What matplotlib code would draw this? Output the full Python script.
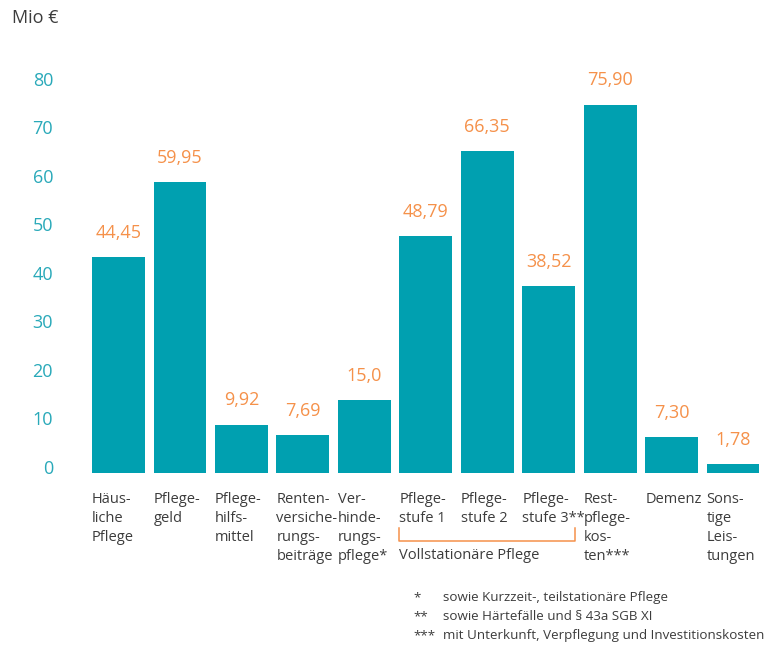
import matplotlib
matplotlib.use("Agg")
import matplotlib.pyplot as plt
from matplotlib.transforms import ScaledTranslation

plt.rcParams['font.family'] = ['Open Sans', 'DejaVu Sans']

categories = ["Häus-\nliche\nPflege", "Pflege-\ngeld", "Pflege-\nhilfs-\nmittel",
              "Renten-\nversiche-\nrungs-\nbeiträge", "Ver-\nhinde-\nrungs-\npflege*",
              "Pflege-\nstufe 1", "Pflege-\nstufe 2", "Pflege-\nstufe 3**",
              "Rest-\npflege-\nkos-\nten***", "Demenz", "Sons-\ntige\nLeis-\ntungen"]
values = [44.45, 59.95, 9.92, 7.69, 15.0, 48.79, 66.35, 38.52, 75.90, 7.30, 1.78]
value_labels = ["44,45", "59,95", "9,92", "7,69", "15,0", "48,79", "66,35",
                "38,52", "75,90", "7,30", "1,78"]
yticks = [0, 10, 20, 30, 40, 50, 60, 70, 80]
group_label = "Vollstationäre Pflege"
group_members = [5, 7]
footnotes = [("*", "sowie Kurzzeit-, teilstationäre Pflege"),
             ("**", "sowie Härtefälle und § 43a SGB XI"),
             ("***", "mit Unterkunft, Verpflegung und Investitionskosten")]

bar_col = "#00a0b0"
tick_col = "#29a9b9"
val_col = "#f5914a"
txt_col = "#3c3c3c"

fig = plt.figure(figsize=(7.71, 6.47), dpi=100)
ax = fig.add_axes([0.1139, 0.2694, 0.8767, 0.6371])

width = 0.86
x = list(range(len(values)))
ax.bar(x, values, width=width, color=bar_col, linewidth=0)

ax.set_xlim(-0.5, len(values) - 0.5)
ax.set_ylim(0, 85)

for s in ax.spines.values():
    s.set_visible(False)
ax.set_xticks([])
ax.set_yticks(yticks)
ax.set_yticklabels([str(t) for t in yticks], fontsize=13, color=tick_col)
ax.tick_params(axis='y', length=0, pad=25)
for lab in ax.get_yticklabels():
    lab.set_transform(lab.get_transform() + ScaledTranslation(0, 6 / 100, fig.dpi_scale_trans))

# value labels above bars
for xi, v, t in zip(x, values, value_labels):
    ax.annotate(t, (xi, v), xytext=(0, 11), textcoords='offset points',
                ha='center', va='bottom', fontsize=13, color=val_col)

# category labels, left-aligned under each bar
for xi, c in zip(x, categories):
    ax.annotate(c, (xi - width / 2, 0), xytext=(0, -14), textcoords='offset points',
                ha='left', va='top', fontsize=10.5, color=txt_col, linespacing=1.35,
                annotation_clip=False)

# bracket under the full-time care bars
x0 = group_members[0] - width / 2
x1 = group_members[1] + width / 2
trans = ax.get_xaxis_transform()
yb_top, yb = -0.135, -0.165
ax.plot([x0, x0, x1, x1], [yb_top, yb, yb, yb_top], color=val_col, lw=1.1,
        transform=trans, clip_on=False)
ax.text(x0, yb - 0.018, group_label, transform=trans, ha='left', va='top',
        fontsize=10.5, color=txt_col)

fig.text(12 / 771, 1 - 18 / 647, "Mio €", fontsize=13, color=txt_col, ha='left', va='center')

# footnotes
for i, (mark, note) in enumerate(footnotes):
    yy = 1 - (598 + 19 * i) / 647
    fig.text(413 / 771, yy, mark, fontsize=9.6, color=txt_col, ha='left', va='center')
    fig.text(443 / 771, yy, note, fontsize=9.6, color=txt_col, ha='left', va='center')

fig.savefig("out.png", dpi=100)
